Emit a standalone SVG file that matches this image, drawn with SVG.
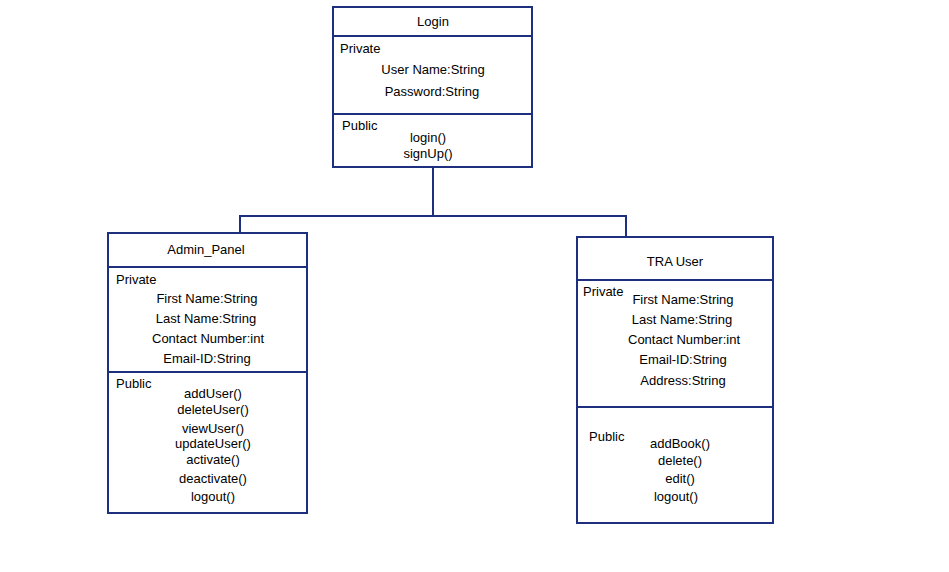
<svg xmlns="http://www.w3.org/2000/svg" width="949" height="572" viewBox="0 0 949 572">
<style>
.box{fill:#fff;stroke:#1f2f7f;stroke-width:2}
.ln{stroke:#1f2f7f;stroke-width:2;fill:none}
text{font-family:"Liberation Sans",Arial,sans-serif;font-size:13px;fill:#000}
.c{text-anchor:middle}
</style>
<rect width="949" height="572" fill="#fff"/>
<g id="connectors">
<path class="ln" d="M433 167 V216 M240 216 H626 M240 215 V233 M626 215 V237"/>
</g>
<g id="login">
<rect class="box" x="333" y="7" width="199" height="160"/>
<line class="ln" x1="333" y1="36" x2="532" y2="36"/>
<line class="ln" x1="333" y1="114" x2="532" y2="114"/>
<text class="c" x="433" y="26">Login</text>
<text x="340" y="53">Private</text>
<text class="c" x="433" y="74">User Name:String</text>
<text class="c" x="432" y="96">Password:String</text>
<text x="342" y="130">Public</text>
<text class="c" x="428" y="142">login()</text>
<text class="c" x="428" y="158">signUp()</text>
</g>
<g id="admin_panel">
<rect class="box" x="108" y="233" width="199" height="280"/>
<line class="ln" x1="108" y1="267" x2="307" y2="267"/>
<line class="ln" x1="108" y1="372" x2="307" y2="372"/>
<text class="c" x="206" y="254">Admin_Panel</text>
<text x="116" y="284">Private</text>
<text class="c" x="207" y="303">First Name:String</text>
<text class="c" x="206" y="323">Last Name:String</text>
<text class="c" x="208" y="343">Contact Number:int</text>
<text class="c" x="207" y="363">Email-ID:String</text>
<text x="116" y="388">Public</text>
<text class="c" x="213" y="398">addUser()</text>
<text class="c" x="213" y="414">deleteUser()</text>
<text class="c" x="213" y="433">viewUser()</text>
<text class="c" x="213" y="448">updateUser()</text>
<text class="c" x="213" y="464">activate()</text>
<text class="c" x="213" y="483">deactivate()</text>
<text class="c" x="213" y="501">logout()</text>
</g>
<g id="tra_user">
<rect class="box" x="577" y="237" width="196" height="286"/>
<line class="ln" x1="577" y1="280" x2="773" y2="280"/>
<line class="ln" x1="577" y1="407" x2="773" y2="407"/>
<text class="c" x="675" y="266">TRA User</text>
<text x="583" y="296">Private</text>
<text class="c" x="683" y="304">First Name:String</text>
<text class="c" x="682" y="324">Last Name:String</text>
<text class="c" x="684" y="344">Contact Number:int</text>
<text class="c" x="683" y="364">Email-ID:String</text>
<text class="c" x="683" y="385">Address:String</text>
<text x="589" y="441">Public</text>
<text class="c" x="680" y="448">addBook()</text>
<text class="c" x="680" y="465">delete()</text>
<text class="c" x="680" y="483">edit()</text>
<text class="c" x="676" y="501">logout()</text>
</g>
</svg>
